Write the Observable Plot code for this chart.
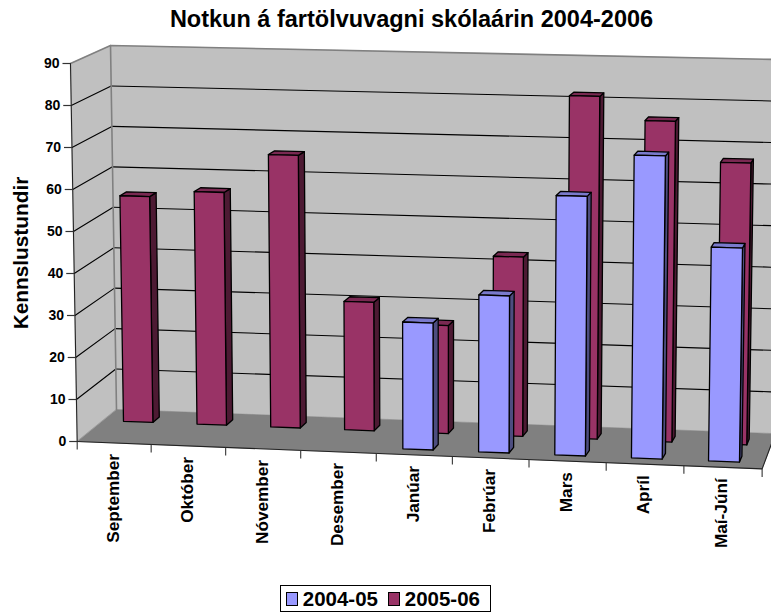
<!DOCTYPE html>
<html><head><meta charset="utf-8">
<script src="https://cdn.jsdelivr.net/npm/d3@7"></script>
<script src="https://cdn.jsdelivr.net/npm/@observablehq/plot@0.6"></script>
<style>
html,body{margin:0;padding:0;background:#fff;font-family:"Liberation Sans",Arial,sans-serif}
#title{height:40px;width:771px;box-sizing:border-box;padding:7px 0 0 52px;text-align:center;font-weight:bold;font-size:23.5px;line-height:24px;color:#000;white-space:nowrap}
#legend{position:absolute;left:280px;top:585px;width:211px;height:27px;box-sizing:border-box;border:1px solid #000;display:flex;align-items:center;padding-left:5px;font-weight:bold;font-size:20.5px;color:#000;white-space:nowrap}
#legend i{display:inline-block;width:14px;height:14px;border:1px solid #000;margin-right:5px;box-sizing:border-box}
#legend span{margin-right:10px}
</style></head><body>
<div id="title">Notkun á fartölvuvagni skólaárin 2004-2006</div>
<div id="chart"></div>
<div id="legend"></div>
<script>
const categories = ["September","Október","Nóvember","Desember","Janúar","Febrúar","Mars","Apríl","Maí-Júní"];
const series2004 = [null,null,null,null,30,37,61,71,50];
const series2005 = [55,56.5,66,31,26,43,82,76.5,67];
const valueTicks = [0,10,20,30,40,50,60,70,80,90];
const seriesNames = ["2004-05","2005-06"];
const blueFaces = {front:"#9999ff",top:"#7a7acc",side:"#4d4d80"};
const maroonFaces = {front:"#993366",top:"#7a2952",side:"#4d1a33"};

// 3-D view: u along categories (0..9), d into depth (0..1), v value (0..90)
function P(u,d,v){
  const xf=76.7+73.7*u+.267*u*u, yf=441+.04*(xf-76.7);
  const xb=116+73.2*u, yb=409+.0366*(xb-116);
  const bx=xf+(xb-xf)*d, by=yf+(yb-yf)*d;
  const hf=378+10*(xf-76.7)/685, hb=364+10*(xb-116)/659;
  const H=hf+(hb-hf)*d;
  return {x:bx+(bx-442)*.01835*v/90, y:by-H*v/90};
}
const polys=[];
let pid=0;
function poly(pts,fill,stroke){const id=pid++;pts.forEach(p=>polys.push({...p,id,fill,stroke:stroke||fill}));}
const N=categories.length, TOP=90;
poly([P(0,1,0),P(N,1,0),P(N,1,TOP),P(0,1,TOP)],"#c0c0c0");
poly([P(0,0,0),P(0,1,0),P(0,1,TOP),P(0,0,TOP)],"#c0c0c0");
poly([P(0,0,0),P(N,0,0),P(N,1,0),P(0,1,0)],"#808080");

function bar(i,v,d0,d1,c){
  if(v==null) return;
  const a=i+.28,b=i+.68;
  poly([P(b,d0,0),P(b,d1,0),P(b,d1,v),P(b,d0,v)],c.side,"#000");
  poly([P(a,d0,v),P(b,d0,v),P(b,d1,v),P(a,d1,v)],c.top,"#000");
  poly([P(a,d0,0),P(b,d0,0),P(b,d0,v),P(a,d0,v)],c.front,"#000");
}
series2005.forEach((v,i)=>bar(i,v,.655,.82,maroonFaces));
series2004.forEach((v,i)=>bar(i,v,.165,.33,blueFaces));

const gridLines=[];
valueTicks.filter(v=>v>0&&v<TOP).forEach(v=>{
  gridLines.push({...P(0,0,v),id:"l"+v},{...P(0,1,v),id:"l"+v});
  gridLines.push({...P(0,1,v),id:"b"+v},{...P(N,1,v),id:"b"+v});
});
const wallEdges=[
  {...P(0,0,TOP),id:"a"},{...P(0,1,TOP),id:"a"},{...P(N,1,TOP),id:"a"},
  {...P(0,1,0),id:"c"},{...P(0,1,TOP),id:"c"}
];
const frontEdges=[
  {...P(0,0,0),id:"e"},{...P(0,0,TOP),id:"e"},
  {...P(0,0,0),id:"f"},{...P(N,0,0),id:"f"},{...P(N,1,0),id:"f"}
];
const yTicks=valueTicks.map(v=>({...P(0,0,v),v}));
const xTicks=d3.range(N+1).map(u=>P(u,0,0));
const xLabels=categories.map((c,i)=>({...P(i+.5,0,0),c}));
const nFirst=polys.filter(p=>p.id<3);
const nBars=polys.filter(p=>p.id>=3);

const font="'Liberation Sans',Arial,sans-serif";
const chart=Plot.plot({
  width:771,height:540,margin:0,
  style:{background:"transparent",fontFamily:font},
  x:{domain:[0,771],range:[0,771],axis:null},
  y:{domain:[40,580],range:[0,540],axis:null},
  color:{type:"identity"},
  marks:[
    Plot.line(nFirst,{x:"x",y:"y",z:"id",fill:"fill",stroke:"fill",curve:"linear-closed",strokeWidth:.5}),
    Plot.line(gridLines,{x:"x",y:"y",z:"id",stroke:"#000",strokeWidth:1.1}),
    Plot.line(wallEdges,{x:"x",y:"y",z:"id",stroke:"#808080",strokeWidth:1.6}),
    Plot.line(frontEdges,{x:"x",y:"y",z:"id",stroke:"#222",strokeWidth:1.1}),
    Plot.line(nBars,{x:"x",y:"y",z:"id",fill:"fill",stroke:"#000",curve:"linear-closed",strokeWidth:1.3,strokeLinejoin:"round"}),
    Plot.link(yTicks,{x1:"x",y1:"y",x2:d=>d.x-8,y2:"y",stroke:"#333",strokeWidth:1.2}),
    Plot.link(xTicks,{x1:"x",y1:"y",x2:"x",y2:d=>d.y+8,stroke:"#333",strokeWidth:1.1}),
    Plot.text(yTicks,{x:"x",y:"y",dx:-11,text:"v",textAnchor:"end",fontWeight:"bold",fontSize:14,fill:"#000"}),
    Plot.text(xLabels,{x:"x",y:"y",dx:-1,dy:11,text:"c",rotate:-90,textAnchor:"end",fontWeight:"bold",fontSize:17.2,fill:"#000"}),
    Plot.text(["Kennslustundir"],{x:()=>21,y:()=>252.5,rotate:-90,fontWeight:"bold",fontSize:20.8,fill:"#000"})
  ]
});
document.getElementById("chart").appendChild(chart);
const lg=document.getElementById("legend");
seriesNames.forEach((n,i)=>{
  const sw=document.createElement("i");sw.style.background=i?maroonFaces.front:blueFaces.front;
  const t=document.createElement("span");t.textContent=n;
  lg.append(sw,t);
});
</script>
</body></html>
